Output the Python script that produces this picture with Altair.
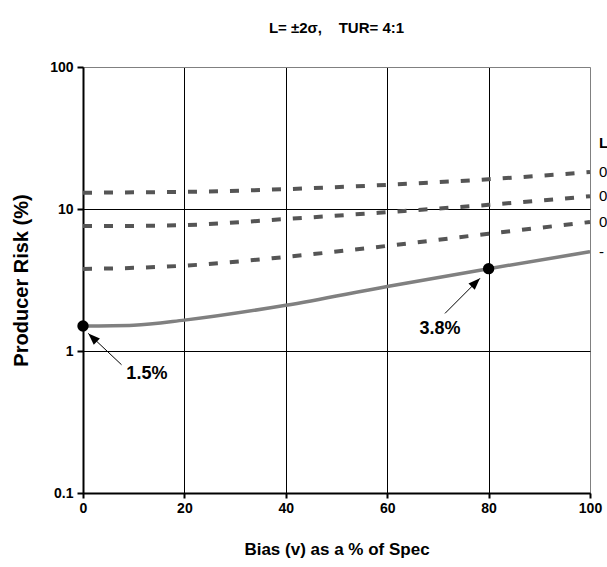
import altair as alt
import pandas as pd

# Bias as a percent of the spec limit
bias = [0, 10, 20, 40, 60, 80, 100]

# Producer risk (%) for each curve
series_names = ["0.75", "0.50", "0.25", "-"]
risk_a = [13.0, 13.1, 13.2, 13.8, 14.8, 16.2, 18.2]
risk_b = [7.6, 7.6, 7.7, 8.5, 9.5, 10.7, 12.3]
risk_c = [3.78, 3.85, 3.99, 4.6, 5.5, 6.7, 8.1]
risk_base = [1.5, 1.52, 1.65, 2.1, 2.85, 3.8, 5.0]
legend_header = "Legend"

x_ticks = [0, 20, 40, 60, 80, 100]
y_ticks = [0.1, 1, 10, 100]

# Highlighted points on the no-spread curve, with arrow tail / tip and label anchors
mark_bias = [0, 80]
arrow_tail_x = [7.6, 71.4]
arrow_tail_y = [0.80, 1.84]
arrow_tip_x = [1.05, 78.3]
arrow_tip_y = [1.33, 3.25]
arrow_angle = [314, 45]
label_x = [12.6, 70.4]
label_y = [0.69, 1.43]

FONT = "Liberation Sans"

rows = []
for name, vals, dashed in zip(series_names, [risk_a, risk_b, risk_c, risk_base],
                              [True, True, True, False]):
    for b, v in zip(bias, vals):
        rows.append({"bias": b, "risk": v, "series": name, "dashed": dashed})
df = pd.DataFrame(rows)

x_scale = alt.Scale(domain=[0, 100], nice=False)
y_scale = alt.Scale(type="log", domain=[0.1, 100], nice=False)

grid_color = {"condition": {"test": "datum.value == 100", "value": "#808080"}, "value": "black"}

x_axis = alt.Axis(
    values=x_ticks, title="Bias (v) as a % of Spec", format="d",
    grid=True, gridColor=grid_color, gridWidth=1,
    domainColor="black", domainWidth=2,
    tickColor="black", tickSize=5, tickWidth=2,
    labelFont=FONT, labelFontWeight="bold", labelFontSize=14, labelColor="black",
    labelPadding=3, titleFont=FONT, titleFontWeight="bold", titleFontSize=17,
    titleColor="black", titlePadding=26, labelFlush=False,
)
y_axis = alt.Axis(
    values=y_ticks, title="Producer Risk (%)", format="~g",
    grid=True, gridColor=grid_color, gridWidth=1,
    domainColor="black", domainWidth=2,
    tickColor="black", tickSize=6, tickWidth=2,
    labelFont=FONT, labelFontWeight="bold", labelFontSize=14, labelColor="black",
    labelPadding=4, titleFont=FONT, titleFontWeight="bold", titleFontSize=20,
    titleColor="black", titlePadding=18, labelFlush=False,
)

base = alt.Chart(df)

dashed_lines = base.transform_filter("datum.dashed").mark_line(
    color="#555555", strokeWidth=4, strokeDash=[9, 12], interpolate="monotone"
).encode(
    x=alt.X("bias:Q", scale=x_scale, axis=x_axis),
    y=alt.Y("risk:Q", scale=y_scale, axis=y_axis),
    detail="series:N",
)

solid_line = base.transform_filter("!datum.dashed").mark_line(
    color="#808080", strokeWidth=3.5, interpolate="monotone"
).encode(x="bias:Q", y="risk:Q")

# End-of-line labels sitting just past the right edge
ends = df[df["bias"] == 100]
end_labels = alt.Chart(ends).mark_text(
    align="left", baseline="middle", font=FONT, fontSize=15, color="black"
).encode(x=alt.value(516), y="risk:Q", text="series:N")

header = alt.Chart(pd.DataFrame({"t": [legend_header]})).mark_text(
    align="left", baseline="middle", font=FONT, fontSize=15, fontWeight="bold", color="black"
).encode(x=alt.value(516), y=alt.value(76), text="t:N")

base_vals = dict(zip(bias, risk_base))
mark_risk = [base_vals[b] for b in mark_bias]
ann = pd.DataFrame({
    "bias": mark_bias, "risk": mark_risk,
    "tx": arrow_tail_x, "ty": arrow_tail_y,
    "hx": arrow_tip_x, "hy": arrow_tip_y, "angle": arrow_angle,
    "lx": label_x, "ly": label_y,
    "label": [f"{v}%" for v in mark_risk],
})
ann_base = alt.Chart(ann)

dots = ann_base.mark_circle(color="black", opacity=1, size=130).encode(
    x="bias:Q", y="risk:Q"
)
shafts = ann_base.mark_rule(color="black", strokeWidth=1).encode(
    x="tx:Q", y="ty:Q", x2="hx:Q", y2="hy:Q"
)
heads = ann_base.mark_point(
    shape="M0,0L-0.75,2L0.75,2Z", filled=True, color="black", opacity=1, size=140
).encode(x="hx:Q", y="hy:Q", angle=alt.Angle("angle:Q", scale=None))
labels = ann_base.mark_text(
    font=FONT, fontSize=18, fontWeight="bold", color="black", align="center", baseline="middle"
).encode(x="lx:Q", y="ly:Q", text="label:N")

chart = alt.layer(
    dashed_lines, solid_line, shafts, heads, dots, labels, end_labels, header
).properties(
    width=507, height=426,
    title=alt.TitleParams(
        "L= ±2σ,\u00a0\u00a0\u00a0\u00a0TUR= 4:1", font=FONT, fontSize=15,
        fontWeight="bold", color="black", offset=24,
    ),
    autosize=alt.AutoSizeParams(type="none"),
    padding={"left": 83, "top": 67, "right": 17, "bottom": 74},
).configure_view(
    stroke="#808080", strokeWidth=2
).configure(background="white")

chart.save("out.html", embed_options={"renderer": "svg", "actions": False})
